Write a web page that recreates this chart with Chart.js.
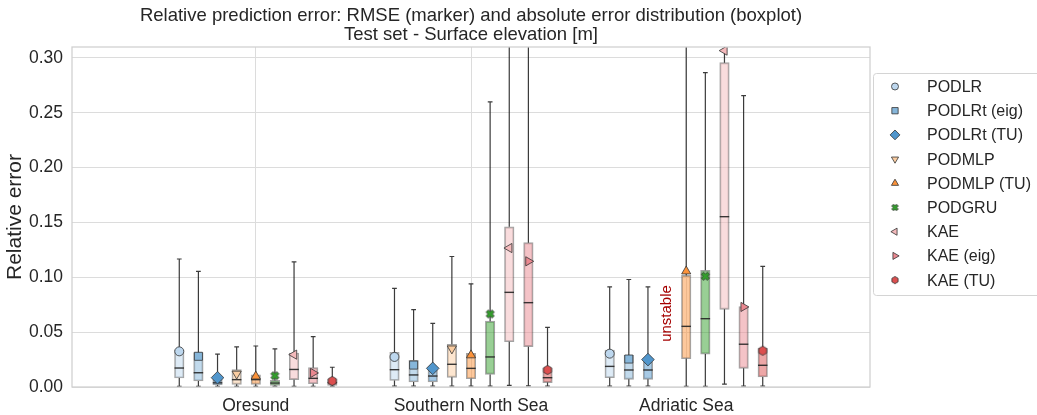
<!DOCTYPE html>
<html>
<head>
<meta charset="utf-8">
<script src="https://cdn.jsdelivr.net/npm/chart.js@4.4.1/dist/chart.umd.min.js"></script>
<style>
html, body { margin: 0; padding: 0; background: #fff; }
#wrap { width: 1037px; height: 415px; }
</style>
</head>
<body>
<div id="wrap"><canvas id="chartErro"></canvas></div>
<script>
// ---- data ----
const regions = ['Oresund', 'Southern North Sea', 'Adriatic Sea'];
const models = ['PODLR', 'PODLRt (eig)', 'PODLRt (TU)', 'PODMLP', 'PODMLP (TU)', 'PODGRU', 'KAE', 'KAE (eig)', 'KAE (TU)'];

// one row per model, one column per region (null = no result)
const rmse = [
  [0.0325, 0.0274, 0.0304],
  [0.0280, 0.0200, 0.0255],
  [0.0085, 0.0170, 0.0250],
  [0.0120, 0.0350, null],
  [0.0097, 0.0290, 0.1055],
  [0.0103, 0.0666, 0.1010],
  [0.0295, 0.1267, 0.3067],
  [0.0128, 0.1146, 0.0730],
  [0.0055, 0.0155, 0.0331]
];
const q1 = [
  [0.0082, 0.0060, 0.0085],
  [0.0055, 0.0046, 0.0070],
  [0.0018, 0.0046, 0.0070],
  [0.0024, 0.0088, null],
  [0.0024, 0.0076, 0.0258],
  [0.0015, 0.0115, 0.0300],
  [0.0067, 0.0413, 0.0708],
  [0.0030, 0.0368, 0.0170],
  [0.0015, 0.0040, 0.0091]
];
const median = [
  [0.0173, 0.0158, 0.0188],
  [0.0130, 0.0110, 0.0155],
  [0.0038, 0.0100, 0.0155],
  [0.0067, 0.0207, null],
  [0.0067, 0.0170, 0.0553],
  [0.0036, 0.0274, 0.0623],
  [0.0160, 0.0863, 0.1553],
  [0.0079, 0.0769, 0.0390],
  [0.0040, 0.0085, 0.0198]
];
const q3 = [
  [0.0340, 0.0316, 0.0337],
  [0.0313, 0.0243, 0.0289],
  [0.0068, 0.0155, 0.0230],
  [0.0158, 0.0390, null],
  [0.0112, 0.0307, 0.1018],
  [0.0060, 0.0600, 0.1064],
  [0.0310, 0.1460, 0.2957],
  [0.0176, 0.1316, 0.0733],
  [0.0070, 0.0170, 0.0353]
];
const whiskerLow = [
  [0.0005, 0.0008, 0.0008],
  [0.0005, 0.0008, 0.0008],
  [0.0005, 0.0008, 0.0008],
  [0.0005, 0.0008, null],
  [0.0005, 0.0008, 0.0005],
  [0.0005, 0.0008, 0.0005],
  [0.0005, 0.0015, 0.0027],
  [0.0005, 0.0010, 0.0008],
  [0.0005, 0.0008, 0.0008]
];
const whiskerHigh = [
  [0.1167, 0.0900, 0.0912],
  [0.1055, 0.0705, 0.0980],
  [0.0300, 0.0580, 0.0912],
  [0.0365, 0.1190, null],
  [0.0374, 0.0940, 0.3600],
  [0.0347, 0.2600, 0.2866],
  [0.1140, 0.3800, 0.4500],
  [0.0460, 0.3500, 0.2657],
  [0.0180, 0.0544, 0.1100]
];
const yTicks = [0, 0.05, 0.10, 0.15, 0.20, 0.25, 0.30];
const unstableNote = { text: 'unstable', model: 3, region: 2, value: 0.067 };

// ---- style ----
const font = "'Liberation Sans', Arial, sans-serif";
const ink = '#262626';
const colors = ['#bdd7ee', '#86b6da', '#5196cc', '#fbcda1', '#fb923a', '#33a02c', '#f4b9bb', '#ea8890', '#dc4f4f'];
const markerRadius = [4.5, 5.7, 6.3, 5.3, 5.3, 4.2, 5.3, 5.3, 4.6];
const markerStyle = ['circle', 'rect', 'rectRot', 'triangle', 'triangle', 'X', 'triangle', 'triangle', 'hex'];
const markerRot = [0, 0, 0, 180, 0, 0, 270, 90, 0];

function alpha(hex, a) {
  const n = parseInt(hex.slice(1), 16);
  return 'rgba(' + (n >> 16) + ',' + ((n >> 8) & 255) + ',' + (n & 255) + ',' + a + ')';
}

// custom shapes that Chart.js does not have (filled X and hexagon)
function makeMarker(kind, r, fill) {
  const s = Math.ceil(r * 2 + 6);
  const c = document.createElement('canvas');
  c.width = s; c.height = s;
  const g = c.getContext('2d');
  g.translate(s / 2, s / 2);
  g.beginPath();
  if (kind === 'X') {
    const a = r, t = r * 0.38;
    g.rotate(Math.PI / 4);
    g.moveTo(-t, -a); g.lineTo(t, -a); g.lineTo(t, -t); g.lineTo(a, -t); g.lineTo(a, t); g.lineTo(t, t);
    g.lineTo(t, a); g.lineTo(-t, a); g.lineTo(-t, t); g.lineTo(-a, t); g.lineTo(-a, -t); g.lineTo(-t, -t);
  } else {
    for (let i = 0; i < 6; i++) {
      const ang = Math.PI / 3 * i;
      if (i) g.lineTo(r * Math.sin(ang), -r * Math.cos(ang)); else g.moveTo(0, -r);
    }
  }
  g.closePath();
  g.fillStyle = fill; g.fill();
  g.lineWidth = 0.8; g.strokeStyle = '#333'; g.stroke();
  return c;
}
function pointStyleFor(k, scale) {
  const st = markerStyle[k];
  if (st === 'X' || st === 'hex') return makeMarker(st, markerRadius[k] * scale, colors[k]);
  return st;
}

// hue offset inside each region group (like a grouped boxplot)
const nModels = models.length;
function offset(k) { return -0.4 + 0.8 / nModels * (k + 0.5); }

const datasets = [];
models.forEach(function (name, k) {
  const boxes = [];
  const marks = [];
  regions.forEach(function (reg, r) {
    if (q1[k][r] !== null) boxes.push({ x: r + offset(k), y: [q1[k][r], q3[k][r]], r: r });
    if (rmse[k][r] !== null) marks.push({ x: r + offset(k), y: rmse[k][r] });
  });
  datasets.push({
    type: 'bar', label: name, data: boxes, order: 2, grouped: false,
    barThickness: 9.5, backgroundColor: alpha(colors[k], 0.5),
    borderColor: 'rgba(50,50,50,0.45)', borderWidth: 1.2, borderSkipped: false
  });
  datasets.push({
    type: 'scatter', label: name, data: marks, order: 1,
    pointStyle: pointStyleFor(k, 1), rotation: markerRot[k], pointRadius: markerRadius[k],
    pointBackgroundColor: colors[k], pointBorderColor: '#333', pointBorderWidth: 0.8
  });
});

// whiskers, caps and medians for every box
const boxPlugin = {
  id: 'boxParts',
  afterDatasetDraw(chart, args) {
    const ds = chart.data.datasets[args.index];
    if (ds.type !== 'bar') return;
    const k = Math.floor(args.index / 2);
    const ctx = chart.ctx, ys = chart.scales.y;
    ctx.save();
    Chart.helpers.clipArea(ctx, chart.chartArea);
    args.meta.data.forEach(function (el, i) {
      const r = ds.data[i].r;
      const x = el.x, w = el.width;
      const pLo = ys.getPixelForValue(whiskerLow[k][r]);
      const pHi = ys.getPixelForValue(whiskerHigh[k][r]);
      const p1 = ys.getPixelForValue(q1[k][r]);
      const p3 = ys.getPixelForValue(q3[k][r]);
      const pm = ys.getPixelForValue(median[k][r]);
      ctx.strokeStyle = 'rgba(25,25,25,0.85)';
      ctx.lineWidth = 1.2;
      ctx.beginPath();
      ctx.moveTo(x, p3); ctx.lineTo(x, pHi);
      ctx.moveTo(x, p1); ctx.lineTo(x, pLo);
      ctx.moveTo(x - w / 4, pHi); ctx.lineTo(x + w / 4, pHi);
      ctx.moveTo(x - w / 4, pLo); ctx.lineTo(x + w / 4, pLo);
      ctx.stroke();
      ctx.strokeStyle = 'rgba(35,35,35,0.9)';
      ctx.lineWidth = 1.4;
      ctx.beginPath();
      ctx.moveTo(x - w / 2, pm); ctx.lineTo(x + w / 2, pm);
      ctx.stroke();
    });
    ctx.restore();
  },
  afterDatasetsDraw(chart) {
    const ctx = chart.ctx, a = chart.chartArea;
    // frame
    ctx.save();
    ctx.strokeStyle = '#cfcfcf';
    ctx.lineWidth = 1.25;
    ctx.strokeRect(a.left, a.top, a.right - a.left, a.bottom - a.top);
    // note for the missing model
    const x = chart.scales.x.getPixelForValue(unstableNote.region + offset(unstableNote.model));
    const y = chart.scales.y.getPixelForValue(unstableNote.value);
    ctx.translate(x, y);
    ctx.rotate(-Math.PI / 2);
    ctx.fillStyle = '#a50000';
    ctx.font = '15px ' + font;
    ctx.textAlign = 'center';
    ctx.textBaseline = 'middle';
    ctx.fillText(unstableNote.text, 0, 0);
    ctx.restore();
  },
  afterDraw(chart) {
    // legend box on the right, outside the plot
    const ctx = chart.ctx, a = chart.chartArea;
    const lx = a.right + 3, ly = a.top + 26, lh = 222;
    ctx.save();
    ctx.fillStyle = '#fff';
    ctx.strokeStyle = '#d4d4d4';
    ctx.lineWidth = 1;
    ctx.beginPath();
    ctx.roundRect(lx + 0.5, ly + 0.5, 200, lh, 3);
    ctx.fill(); ctx.stroke();
    models.forEach(function (name, k) {
      const y = ly + 13.5 + k * 24.2;
      ctx.fillStyle = colors[k];
      ctx.strokeStyle = '#333';
      ctx.lineWidth = 0.8;
      Chart.helpers.drawPoint(ctx, {
        pointStyle: pointStyleFor(k, 0.78), rotation: markerRot[k],
        radius: markerRadius[k] * 0.78, borderWidth: 0.8
      }, lx + 22, y);
      ctx.fillStyle = ink;
      ctx.font = '16px ' + font;
      ctx.textAlign = 'left';
      ctx.textBaseline = 'middle';
      ctx.fillText(name, lx + 54, y + 1);
    });
    ctx.restore();
  }
};

const ctx = document.getElementById('chartErro').getContext('2d');
const chart = new Chart(ctx, {
  type: 'bar',
  data: { datasets: datasets },
  plugins: [boxPlugin],
  options: {
    responsive: true,
    maintainAspectRatio: false,
    animation: false,
    events: [],
    layout: { padding: { left: 0, right: 167, top: 0, bottom: 0 } },
    plugins: {
      legend: { display: false },
      tooltip: { enabled: false },
      title: {
        display: true, fullSize: false,
        text: ['Relative prediction error: RMSE (marker) and absolute error distribution (boxplot)',
               'Test set - Surface elevation [m]'],
        color: ink, font: { family: font, size: 18.5, weight: 'normal', lineHeight: 1.0 },
        padding: { top: 7, bottom: 3 }
      }
    },
    scales: {
      x: {
        type: 'linear', min: -0.854, max: 2.854, offset: false,
        afterBuildTicks: function (axis) { axis.ticks = regions.map(function (r, i) { return { value: i }; }); },
        afterFit: function (axis) { axis.height = 28; },
        ticks: {
          callback: function (v) { return regions[v]; },
          color: ink, font: { family: font, size: 17.5 }, padding: 9, maxRotation: 0, autoSkip: false
        },
        grid: { color: '#dcdcdc', lineWidth: 1, drawTicks: false, offset: false },
        border: { display: false }
      },
      y: {
        min: 0, max: 0.31,
        afterBuildTicks: function (axis) { axis.ticks = yTicks.map(function (v) { return { value: v }; }); },
        afterFit: function (axis) { axis.width = 72; },
        ticks: {
          callback: function (v) { return v.toFixed(2); },
          color: ink, font: { family: font, size: 17.5 }, padding: 9
        },
        grid: { color: '#dcdcdc', lineWidth: 1, drawTicks: false },
        border: { display: false },
        title: {
          display: true, text: 'Relative error', color: ink,
          font: { family: font, size: 21 }, padding: { top: 2.5, bottom: 0 }
        }
      }
    }
  }
});
</script>
</body>
</html>
